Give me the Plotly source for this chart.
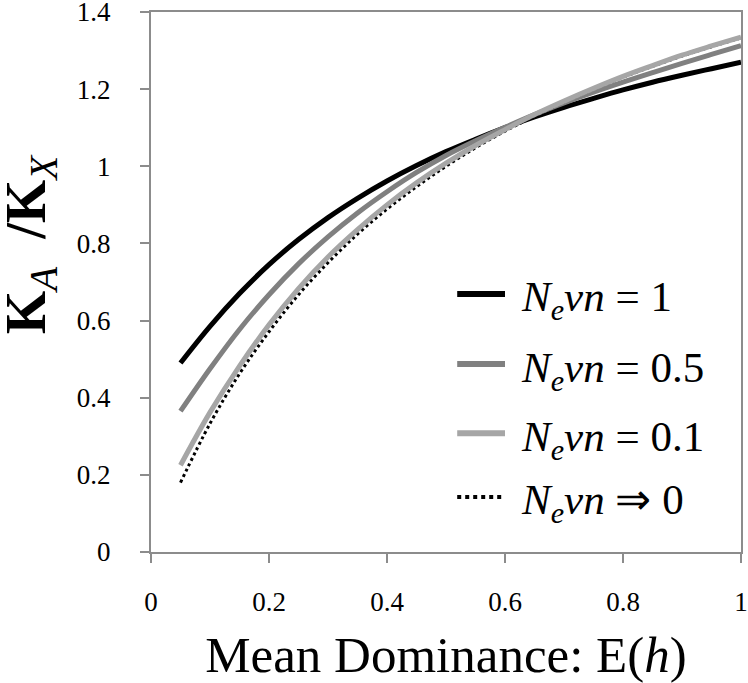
import plotly.graph_objects as go

h_vals = [0.05, 0.1, 0.15, 0.2, 0.25, 0.3, 0.35, 0.4, 0.45, 0.5,
          0.55, 0.6, 0.65, 0.7, 0.75, 0.8, 0.85, 0.9, 0.95, 1.0]

ratio_nevn_1 = [0.49, 0.585, 0.67, 0.745, 0.81, 0.867, 0.917, 0.962, 1.002, 1.038,
                1.07, 1.10, 1.128, 1.153, 1.176, 1.198, 1.218, 1.236, 1.253, 1.27]
ratio_nevn_05 = [0.365, 0.475, 0.577, 0.667, 0.747, 0.817, 0.879, 0.934, 0.984, 1.028,
                 1.066, 1.101, 1.134, 1.164, 1.192, 1.218, 1.243, 1.267, 1.29, 1.313]
ratio_nevn_01 = [0.225, 0.362, 0.482, 0.589, 0.683, 0.765, 0.836, 0.9, 0.957, 1.008,
                 1.054, 1.095, 1.134, 1.169, 1.202, 1.233, 1.261, 1.288, 1.312, 1.335]
ratio_nevn_0 = [0.18, 0.333, 0.462, 0.571, 0.667, 0.75, 0.824, 0.889, 0.947, 1.0,
                1.048, 1.091, 1.13, 1.167, 1.2, 1.231, 1.259, 1.286, 1.31, 1.333]

x_ticks = [0, 0.2, 0.4, 0.6, 0.8, 1]
x_tick_labels = ["0", "0.2", "0.4", "0.6", "0.8", "1"]
y_ticks = [0, 0.2, 0.4, 0.6, 0.8, 1, 1.2, 1.4]
y_tick_labels = ["0", "0.2", "0.4", "0.6", "0.8", "1", "1.2", "1.4"]

series_names = [
    "<i>N</i><sub><i>e</i></sub><i>vn</i> = 1",
    "<i>N</i><sub><i>e</i></sub><i>vn</i> = 0.5",
    "<i>N</i><sub><i>e</i></sub><i>vn</i> = 0.1",
    "<i>N</i><sub><i>e</i></sub><i>vn</i> ⇒ 0",
]
series_values = [ratio_nevn_1, ratio_nevn_05, ratio_nevn_01, ratio_nevn_0]
series_colors = ["#000000", "#808080", "#a6a6a6", "#000000"]
series_widths = [5, 5, 5, 3]
series_dash = ["solid", "solid", "solid", "dot"]
draw_order = [0, 1, 3, 2]

FONT = "Liberation Serif"

fig = go.Figure()
for i in draw_order:
    fig.add_trace(go.Scatter(
        x=h_vals, y=series_values[i], mode="lines", name=series_names[i],
        showlegend=False,
        line=dict(color=series_colors[i], width=series_widths[i],
                  dash=series_dash[i], shape="spline")))

fig.update_layout(
    width=748, height=683,
    margin=dict(l=151, r=7, t=12, b=131, autoexpand=False),
    paper_bgcolor="white", plot_bgcolor="white",
    font=dict(family=FONT, size=27, color="#000000"),
    showlegend=False,
)
fig.update_xaxes(range=[0, 1], tickvals=x_ticks, ticktext=x_tick_labels,
                 showgrid=False, zeroline=False, automargin=False,
                 showline=True, linecolor="#8c8c8c", linewidth=2, mirror=True,
                 ticks="outside", ticklen=9, tickcolor="#8c8c8c", tickwidth=2,
                 ticklabeloverflow="allow", ticklabelstandoff=16,
                 tickfont=dict(family=FONT, size=27, color="#000000"),
                 title=dict(text="Mean Dominance: E(<i>h</i>)",
                            font=dict(family=FONT, size=51), standoff=25))
fig.update_yaxes(range=[0, 1.4], tickvals=y_ticks, ticktext=y_tick_labels,
                 showgrid=False, zeroline=False, automargin=False,
                 showline=True, linecolor="#8c8c8c", linewidth=2, mirror=True,
                 ticks="outside", ticklen=9, tickcolor="#8c8c8c", tickwidth=2,
                 ticklabeloverflow="allow", ticklabelstandoff=24,
                 tickfont=dict(family=FONT, size=27, color="#000000"))

# legend drawn inside the plot (samples + labels), in paper coordinates
legend_rows_y = [0.478, 0.348, 0.22, 0.102]
x0, x1, xt = 0.519, 0.600, 0.624
for row, i in enumerate([0, 1, 2, 3]):
    yy = legend_rows_y[row]
    fig.add_shape(type="line", xref="paper", yref="paper",
                  x0=x0, x1=x1, y0=yy, y1=yy,
                  line=dict(color=series_colors[i],
                            width=6 if series_dash[i] == "solid" else 4,
                            dash=series_dash[i]))
    fig.add_annotation(text=series_names[i], xref="paper", yref="paper",
                       x=xt, y=yy - 0.012, xanchor="left", yanchor="middle",
                       showarrow=False,
                       font=dict(family=FONT, size=43, color="#000000"))

fig.add_annotation(
    text="<b>K</b><sub><i>A</i></sub>  <b>/K</b><sub><i>X</i></sub>",
    xref="paper", yref="paper", x=-0.205, y=0.57, textangle=-90,
    showarrow=False, font=dict(family=FONT, size=56, color="#000000"),
    xanchor="center", yanchor="middle",
)

fig.write_html("out.html", config={"displayModeBar": False},
               post_script="document.body.style.margin='0';")
